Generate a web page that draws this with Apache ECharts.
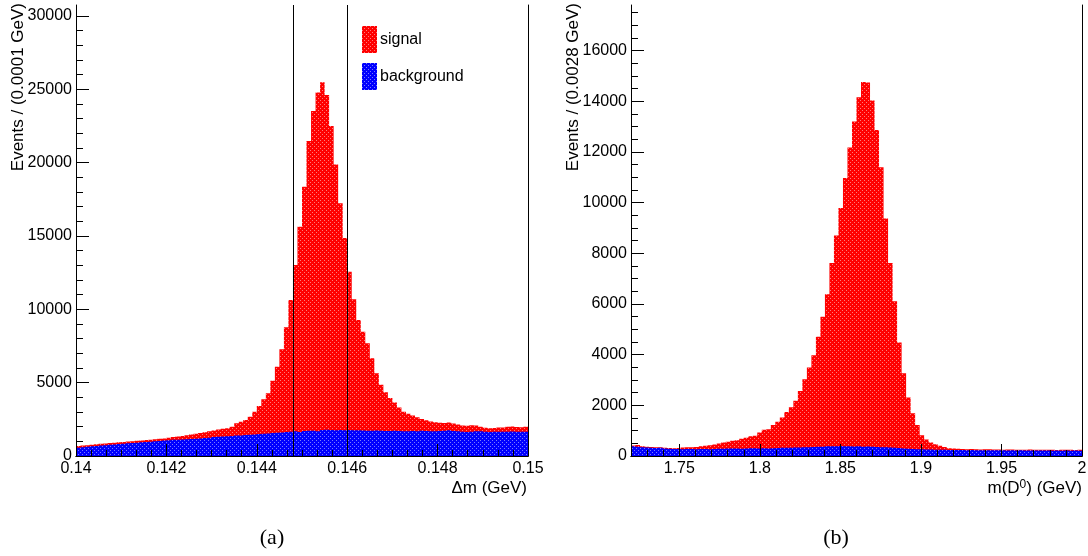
<!DOCTYPE html>
<html>
<head>
<meta charset="utf-8">
<script src="https://cdn.jsdelivr.net/npm/echarts@6/dist/echarts.min.js"></script>
<style>
  html, body { margin: 0; padding: 0; background: #fff; }
  #chart { width: 1088px; height: 556px; }
</style>
</head>
<body>
<div id="chart"></div>
<script>
// ---- (a) Δm = m(D*) - m(D0): 100 bins of 0.0001 GeV ----
const dmRange = [0.14, 0.15];
const dmBinWidth = 0.0001;
// top of the stack (signal + background)
const dmSigBkg = [
  680, 720, 740, 770, 800, 830, 860, 880, 910, 930,
  960, 990, 1010, 1040, 1060, 1090, 1110, 1140, 1170, 1200,
  1250, 1290, 1330, 1370, 1410, 1460, 1520, 1570, 1620, 1680,
  1740, 1800, 1850, 1890, 2000, 2230, 2340, 2450, 2680, 3020,
  3410, 3870, 4270, 5130, 6090, 7270, 8770, 10630, 13020, 15630,
  18360, 21470, 23520, 24790, 25490, 24610, 22500, 19880, 17230, 14860,
  12560, 10680, 9270, 8470, 7680, 6660, 5640, 4850, 4350, 3950,
  3650, 3300, 3020, 2880, 2760, 2640, 2520, 2430, 2360, 2300,
  2260, 2250, 2280, 2220, 2150, 2080, 2060, 2100, 2080, 1990,
  1930, 1900, 1910, 1950, 1940, 1990, 2010, 1980, 1960, 2000
];
const dmBkg = [
  560, 600, 630, 660, 690, 710, 740, 760, 790, 810,
  840, 870, 890, 910, 940, 960, 980, 1000, 1020, 1050,
  1080, 1100, 1110, 1130, 1150, 1160, 1180, 1200, 1220, 1250,
  1290, 1310, 1330, 1350, 1370, 1390, 1400, 1430, 1450, 1470,
  1500, 1520, 1540, 1570, 1590, 1610, 1630, 1660, 1690, 1640,
  1700, 1720, 1730, 1680, 1780, 1790, 1780, 1760, 1770, 1750,
  1770, 1760, 1750, 1740, 1720, 1730, 1740, 1720, 1700, 1710,
  1720, 1700, 1680, 1690, 1700, 1690, 1720, 1700, 1690, 1680,
  1700, 1730, 1750, 1700, 1680, 1650, 1640, 1660, 1690, 1680,
  1650, 1640, 1650, 1660, 1660, 1650, 1670, 1660, 1650, 1660
];
const dmCutLines = [0.1448, 0.1460];
const dmTicks = [0.14, 0.142, 0.144, 0.146, 0.148, 0.15];
const dmCountTicks = [0, 5000, 10000, 15000, 20000, 25000, 30000];
const dmCountMax = 30750;

// ---- (b) m(D0): 100 bins of 0.0028 GeV ----
const mD0Range = [1.72, 2.0];
const mD0BinWidth = 0.0028;
const mD0SigBkg = [
  410, 430, 380, 370, 360, 350, 350, 330, 320, 310,
  320, 340, 350, 350, 360, 380, 400, 420, 450, 490,
  530, 560, 600, 620, 680, 720, 775, 800, 930, 1040,
  1060, 1220, 1350, 1520, 1740, 1920, 2180, 2570, 3030, 3490,
  3980, 4710, 5500, 6380, 7620, 8700, 9790, 10970, 12180, 13200,
  14160, 14760, 14740, 14030, 12870, 11400, 9370, 7620, 6110, 4480,
  3270, 2310, 1690, 1220, 820, 650, 530, 460, 400, 360,
  310, 300, 290, 280, 270, 275, 270, 260, 265, 270,
  260, 255, 250, 260, 255, 250, 245, 250, 255, 250,
  245, 250, 245, 250, 240, 245, 250, 245, 240, 245
];
const mD0Bkg = [
  380, 370, 350, 340, 330, 320, 330, 300, 290, 280,
  275, 270, 280, 275, 270, 275, 280, 270, 275, 285,
  290, 300, 295, 300, 290, 300, 310, 305, 300, 310,
  300, 310, 320, 330, 325, 330, 335, 340, 345, 350,
  360, 365, 370, 380, 385, 380, 390, 385, 380, 375,
  380, 370, 375, 365, 360, 350, 345, 340, 330, 320,
  300, 290, 280, 270, 265, 260, 255, 250, 250, 245,
  240, 240, 235, 235, 230, 235, 230, 230, 225, 230,
  225, 230, 225, 220, 225, 220, 225, 220, 215, 220,
  215, 220, 215, 210, 215, 210, 215, 210, 215, 210
];
const mD0Ticks = [1.75, 1.8, 1.85, 1.9, 1.95, 2];
const mD0CountTicks = [0, 2000, 4000, 6000, 8000, 10000, 12000, 14000, 16000];
const mD0CountMax = 17800;

// ---- helpers ----
const FONT = 'Liberation Sans, Arial, Helvetica, sans-serif';

// sparse dithered fill, like a ROOT fill pattern
function dither(base, light) {
  const c = document.createElement('canvas');
  c.width = 4; c.height = 4;
  const g = c.getContext('2d');
  g.fillStyle = base; g.fillRect(0, 0, 4, 4);
  g.fillStyle = light;
  g.fillRect(0, 0, 1, 1);
  g.fillRect(2, 2, 1, 1);
  return { image: c, repeat: 'repeat' };
}
const redFill = dither('#ff0000', '#ff7a7a');
const blueFill = dither('#0000ff', '#7a7aff');

// [binLow, binHigh, content] rows
function binRows(range, width, counts) {
  return counts.map((v, i) => [range[0] + i * width, range[0] + (i + 1) * width, v]);
}

// minor tick positions
function minorTicks(lo, hi, step) {
  const out = [];
  const n = Math.round((hi - lo) / step);
  for (let i = 0; i <= n; i++) out.push(+(lo + i * step).toFixed(6));
  return out;
}

// draws the whole histogram as one stepped polygon
function stepArea(fill) {
  return function (params, api) {
    if (params.dataIndexInside !== 0) return null;
    const n = params.dataInsideLength;
    const pts = [];
    for (let i = 0; i < n; i++) {
      const lo = api.value(0, i), hi = api.value(1, i), v = api.value(2, i);
      if (i === 0) pts.push(api.coord([lo, 0]));
      pts.push(api.coord([lo, v]));
      pts.push(api.coord([hi, v]));
      if (i === n - 1) pts.push(api.coord([hi, 0]));
    }
    return { type: 'polygon', shape: { points: pts }, style: { fill: fill, stroke: null } };
  };
}

// full-height vertical cut line at each x
function cutLine(params, api) {
  const x = api.value(0);
  const bottom = api.coord([x, 0]);
  const top = params.coordSys.y;
  const px = Math.round(bottom[0]) + 0.5;
  return {
    type: 'line',
    shape: { x1: px, y1: bottom[1], x2: px, y2: top },
    style: { stroke: '#000', lineWidth: 1 }
  };
}

const numFmt = v => String(+(+v).toFixed(4));

function xAxesFor(gi, range, major, minor) {
  return [
    {
      gridIndex: gi, type: 'value', min: range[0], max: range[1], position: 'bottom', z: 10,
      axisLine: { show: true, lineStyle: { color: '#000', width: 1 } },
      axisTick: { show: true, inside: true, length: 12, customValues: major, lineStyle: { color: '#000', width: 1 } },
      axisLabel: { show: true, customValues: major, formatter: numFmt, margin: 5, color: '#000', fontSize: 16, fontFamily: FONT },
      splitLine: { show: false }
    },
    {
      gridIndex: gi, type: 'value', min: range[0], max: range[1], position: 'bottom', z: 10,
      axisLine: { show: false },
      axisTick: { show: true, inside: true, length: 6, customValues: minor, lineStyle: { color: '#000', width: 1 } },
      axisLabel: { show: false },
      splitLine: { show: false }
    },
    {
      gridIndex: gi, type: 'value', min: range[0], max: range[1], position: 'top', z: 10,
      axisLine: { show: true, lineStyle: { color: '#000', width: 1 } },
      axisTick: { show: false }, axisLabel: { show: false }, splitLine: { show: false }
    }
  ];
}

function yAxesFor(gi, max, major, minor) {
  return [
    {
      gridIndex: gi, type: 'value', min: 0, max: max, position: 'left', z: 10,
      axisLine: { show: true, lineStyle: { color: '#000', width: 1 } },
      axisTick: { show: true, inside: true, length: 13, customValues: major, lineStyle: { color: '#000', width: 1 } },
      axisLabel: { show: true, customValues: major, formatter: v => String(v), margin: 4, color: '#000', fontSize: 16, fontFamily: FONT },
      splitLine: { show: false }
    },
    {
      gridIndex: gi, type: 'value', min: 0, max: max, position: 'left', z: 10,
      axisLine: { show: false },
      axisTick: { show: true, inside: true, length: 7, customValues: minor, lineStyle: { color: '#000', width: 1 } },
      axisLabel: { show: false },
      splitLine: { show: false }
    },
    {
      gridIndex: gi, type: 'value', min: 0, max: max, position: 'right', z: 10,
      axisLine: { show: true, lineStyle: { color: '#000', width: 1 } },
      axisTick: { show: false }, axisLabel: { show: false }, splitLine: { show: false }
    }
  ];
}

const dmMinorX = minorTicks(dmRange[0], dmRange[1], (dmTicks[1] - dmTicks[0]) / 6);
const dmMinorY = minorTicks(0, 30000, 1000);
const mD0MinorX = minorTicks(mD0Range[0], mD0Range[1], 0.01);
const mD0MinorY = minorTicks(0, 17500, 500);

const chart = echarts.init(document.getElementById('chart'), null, { renderer: 'canvas' });

chart.setOption({
  animation: false,
  backgroundColor: '#fff',
  grid: [
    { left: 76, top: 5, width: 452, height: 451, outerBoundsMode: 'none', containLabel: false },
    { left: 631, top: 5, width: 451, height: 451, outerBoundsMode: 'none', containLabel: false }
  ],
  xAxis: [
    ...xAxesFor(0, dmRange, dmTicks, dmMinorX),
    ...xAxesFor(1, mD0Range, mD0Ticks, mD0MinorX)
  ],
  yAxis: [
    ...yAxesFor(0, dmCountMax, dmCountTicks, dmMinorY),
    ...yAxesFor(1, mD0CountMax, mD0CountTicks, mD0MinorY)
  ],
  legend: {
    left: 362, top: 26, orient: 'vertical', icon: 'rect',
    itemWidth: 15, itemHeight: 27, itemGap: 10, padding: 0,
    textStyle: { color: '#000', fontSize: 16, fontFamily: FONT, padding: [0, 0, 0, -2] },
    data: [
      { name: 'signal', itemStyle: { color: redFill } },
      { name: 'background', itemStyle: { color: blueFill } }
    ]
  },
  series: [
    {
      name: 'signal', type: 'custom', xAxisIndex: 0, yAxisIndex: 0, z: 2, clip: true,
      itemStyle: { color: redFill },
      encode: { x: [0, 1], y: 2 },
      data: binRows(dmRange, dmBinWidth, dmSigBkg),
      renderItem: stepArea(redFill)
    },
    {
      name: 'background', type: 'custom', xAxisIndex: 0, yAxisIndex: 0, z: 3, clip: true,
      itemStyle: { color: blueFill },
      encode: { x: [0, 1], y: 2 },
      data: binRows(dmRange, dmBinWidth, dmBkg),
      renderItem: stepArea(blueFill)
    },
    {
      name: 'cuts', type: 'custom', xAxisIndex: 0, yAxisIndex: 0, z: 4, silent: true,
      encode: { x: 0 },
      data: dmCutLines.map(x => [x]),
      renderItem: cutLine
    },
    {
      name: 'signal', type: 'custom', xAxisIndex: 3, yAxisIndex: 3, z: 2, clip: true,
      itemStyle: { color: redFill },
      encode: { x: [0, 1], y: 2 },
      data: binRows(mD0Range, mD0BinWidth, mD0SigBkg),
      renderItem: stepArea(redFill)
    },
    {
      name: 'background', type: 'custom', xAxisIndex: 3, yAxisIndex: 3, z: 3, clip: true,
      itemStyle: { color: blueFill },
      encode: { x: [0, 1], y: 2 },
      data: binRows(mD0Range, mD0BinWidth, mD0Bkg),
      renderItem: stepArea(blueFill)
    }
  ],
  graphic: [
    { type: 'text', x: 18, y: 3, rotation: Math.PI / 2,
      style: { text: 'Events / (0.0001 GeV)', font: '17px ' + FONT, fill: '#000', align: 'right', verticalAlign: 'middle' } },
    { type: 'text', x: 573, y: 3, rotation: Math.PI / 2,
      style: { text: 'Events / (0.0028 GeV)', font: '17px ' + FONT, fill: '#000', align: 'right', verticalAlign: 'middle' } },
    { type: 'text', x: 527, y: 488,
      style: { text: 'Δm (GeV)', font: '17px ' + FONT, fill: '#000', align: 'right', verticalAlign: 'middle' } },
    { type: 'text', x: 1082, y: 488,
      style: {
        text: '{t|m(D}{s|0}{t|) (GeV)}', align: 'right', verticalAlign: 'middle',
        rich: {
          t: { font: '17px ' + FONT, fill: '#000', verticalAlign: 'bottom' },
          s: { font: '12px ' + FONT, fill: '#000', verticalAlign: 'top', padding: [0, 0, 6, 0] }
        }
      } },
    { type: 'text', x: 272, y: 538,
      style: { text: '(a)', font: '22px Liberation Serif, DejaVu Serif, serif', fill: '#000', align: 'center', verticalAlign: 'middle' } },
    { type: 'text', x: 836, y: 538,
      style: { text: '(b)', font: '22px Liberation Serif, DejaVu Serif, serif', fill: '#000', align: 'center', verticalAlign: 'middle' } }
  ]
});
</script>
</body>
</html>
